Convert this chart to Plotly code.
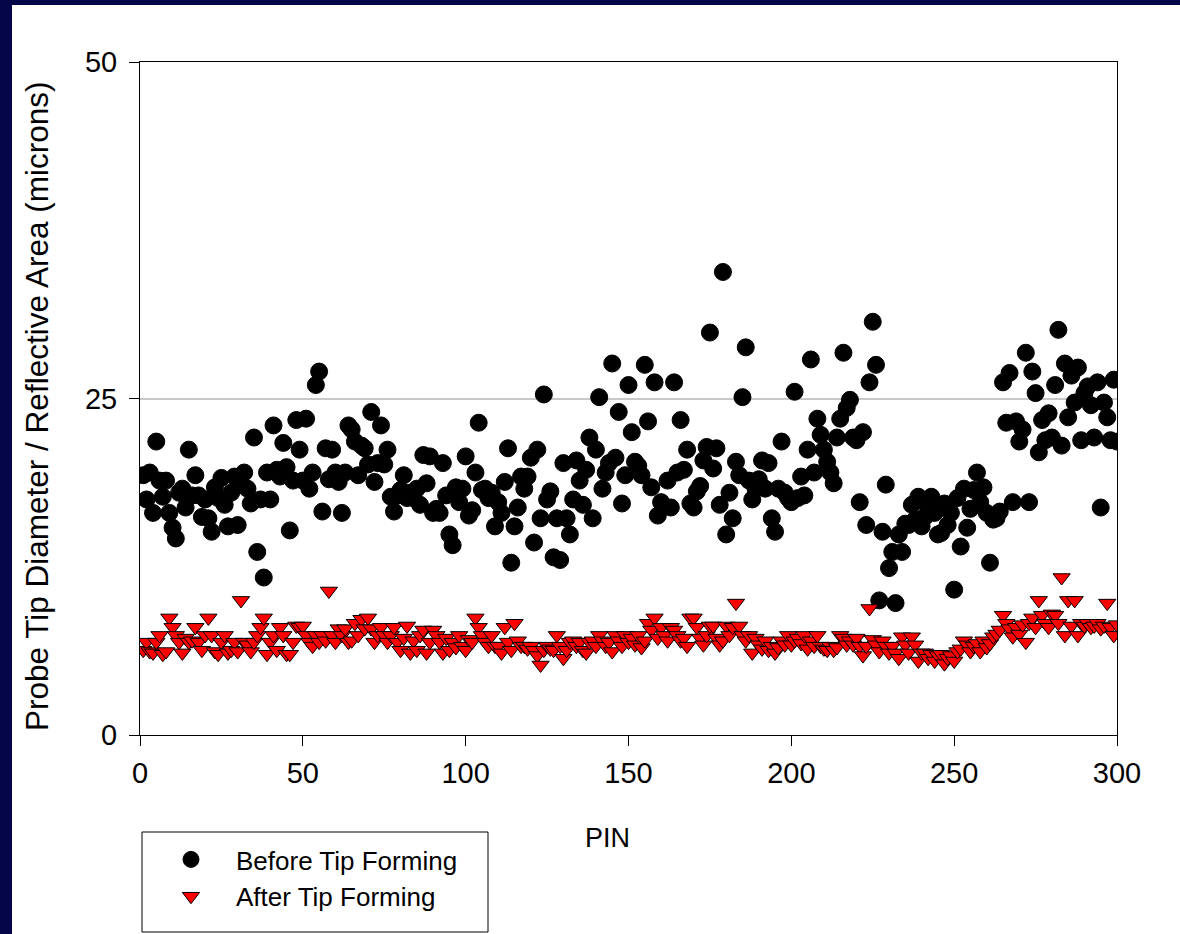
import plotly.graph_objects as go

pins = list(range(1, 301))

before = [
    19.3, 17.5, 19.5, 16.5, 21.8, 18.9, 17.7, 18.9, 16.5, 15.4,
    14.6, 18.0, 18.3, 16.9, 21.2, 17.8, 19.3, 17.8, 16.2, 17.5,
    16.1, 15.1, 18.4, 17.6, 19.1, 17.1, 15.5, 18.0, 19.2, 15.6,
    18.6, 19.5, 18.3, 17.2, 22.1, 13.6, 17.5, 11.7, 19.5, 17.5,
    23.0, 19.7, 19.2, 21.7, 19.9, 15.2, 18.9, 23.4, 21.2, 18.9,
    23.5, 18.3, 19.5, 26.0, 27.0, 16.6, 21.3, 19.0, 21.2, 19.5,
    18.8, 16.5, 19.5, 23.0, 22.7, 21.8, 19.3, 21.5, 21.3, 20.1,
    24.0, 18.8, 20.2, 23.0, 20.1, 21.2, 17.7, 16.6, 17.8, 18.2,
    19.3, 17.6, 18.0, 17.6, 18.3, 17.1, 20.8, 18.7, 20.7, 16.5,
    16.8, 16.5, 20.2, 17.8, 14.9, 14.1, 18.4, 17.3, 18.3, 20.7,
    16.3, 16.7, 19.5, 23.2, 18.2, 18.3, 17.6, 18.0, 15.5, 17.3,
    16.5, 18.8, 21.3, 12.8, 15.5, 16.9, 19.2, 18.3, 19.2, 20.6,
    14.3, 21.2, 16.1, 25.3, 17.5, 18.1, 13.2, 16.1, 13.0, 20.2,
    16.1, 14.9, 17.5, 20.4, 18.9, 17.1, 19.7, 22.1, 16.1, 21.2,
    25.1, 18.3, 19.5, 20.2, 27.6, 20.6, 24.0, 17.2, 19.3, 26.0,
    22.5, 20.3, 20.0, 19.3, 27.5, 23.3, 18.4, 26.2, 16.3, 17.3,
    17.0, 18.9, 16.9, 26.2, 19.5, 23.4, 19.7, 21.2, 17.2, 16.9,
    18.1, 18.5, 20.4, 21.4, 29.9, 19.8, 21.3, 17.1, 34.4, 14.9,
    18.0, 16.1, 20.3, 19.3, 25.1, 28.8, 18.9, 17.5, 18.3, 19.0,
    20.4, 18.3, 20.2, 16.1, 15.1, 18.3, 21.8, 18.0, 17.6, 17.3,
    25.5, 17.6, 19.2, 17.8, 21.2, 27.9, 19.5, 23.5, 22.3, 21.2,
    20.3, 19.5, 18.7, 22.1, 23.5, 28.4, 24.3, 24.9, 22.1, 21.9,
    17.3, 22.5, 15.6, 26.2, 30.7, 27.5, 10.0, 15.1, 18.6, 12.4,
    13.6, 9.8, 14.9, 13.6, 15.7, 15.6, 17.1, 16.0, 17.7, 15.5,
    16.2, 16.9, 17.7, 16.5, 14.9, 15.0, 17.2, 15.6, 16.5, 10.8,
    17.6, 14.0, 18.3, 15.4, 16.8, 18.2, 19.5, 17.3, 18.4, 16.5,
    12.8, 16.0, 16.1, 16.6, 26.2, 23.2, 26.9, 17.3, 23.3, 21.8,
    22.7, 28.4, 17.3, 27.0, 25.4, 21.0, 23.4, 21.9, 23.9, 22.1,
    26.0, 30.1, 21.5, 27.6, 23.6, 26.7, 24.7, 27.3, 21.9, 25.4,
    25.9, 24.5, 22.1, 26.2, 16.9, 24.7, 23.6, 21.9, 26.4, 21.8,
]

after = [
    6.3, 6.9, 6.2, 6.1, 6.9, 7.4, 6.0, 6.2, 8.7, 8.0,
    7.4, 6.9, 6.1, 7.2, 6.9, 7.0, 8.0, 6.9, 6.3, 7.4,
    8.7, 7.4, 6.2, 6.0, 6.9, 7.4, 6.1, 6.3, 6.9, 6.2,
    10.0, 6.9, 6.7, 6.2, 6.9, 7.4, 8.0, 8.7, 6.0, 6.9,
    7.4, 6.3, 8.0, 7.4, 6.0, 6.0, 6.9, 8.1, 8.0, 8.1,
    7.4, 6.9, 6.6, 7.4, 6.9, 7.4, 7.0, 10.7, 7.4, 6.9,
    7.9, 7.4, 7.9, 6.9, 7.0, 8.3, 7.4, 8.6, 7.9, 8.7,
    7.9, 6.9, 7.4, 8.0, 7.4, 6.9, 7.4, 8.0, 6.9, 6.3,
    7.2, 8.1, 6.1, 7.0, 6.3, 7.4, 7.8, 6.1, 6.9, 7.8,
    7.4, 6.9, 6.1, 7.2, 6.3, 6.9, 6.5, 7.4, 6.6, 6.3,
    7.1, 6.9, 8.7, 8.0, 7.4, 6.9, 6.6, 7.4, 6.6, 6.6,
    6.1, 8.0, 6.9, 6.3, 8.3, 7.0, 6.6, 6.6, 6.4, 6.6,
    6.3, 5.9, 5.2, 6.3, 6.6, 6.4, 6.3, 7.4, 6.6, 5.7,
    6.3, 6.9, 7.0, 6.6, 6.9, 6.3, 6.1, 6.9, 7.0, 6.6,
    7.4, 7.0, 6.6, 6.9, 6.2, 7.4, 7.0, 6.6, 7.4, 6.9,
    7.2, 6.7, 7.4, 6.5, 7.0, 8.3, 7.8, 8.7, 7.2, 8.0,
    7.4, 7.0, 8.0, 7.8, 7.4, 7.0, 7.2, 6.6, 8.7, 8.7,
    8.0, 7.2, 6.7, 7.4, 8.1, 8.1, 7.2, 6.7, 7.0, 8.1,
    7.4, 8.0, 9.8, 8.1, 7.4, 7.0, 7.4, 6.1, 7.2, 6.7,
    6.4, 7.0, 6.3, 6.6, 6.1, 6.5, 7.0, 6.7, 7.4, 6.7,
    7.0, 7.2, 6.8, 7.4, 6.4, 7.0, 6.6, 7.4, 6.6, 6.4,
    6.3, 6.6, 6.3, 6.5, 7.4, 7.2, 6.7, 7.0, 6.7, 7.2,
    6.6, 5.9, 6.6, 9.4, 7.1, 6.7, 6.2, 7.0, 6.6, 6.1,
    6.6, 6.1, 5.7, 7.3, 6.7, 6.1, 7.3, 6.7, 5.5, 6.1,
    6.1, 5.7, 6.0, 5.5, 5.9, 6.0, 5.3, 5.7, 5.9, 5.5,
    6.2, 6.4, 7.0, 6.7, 6.2, 6.6, 6.8, 6.2, 7.0, 6.5,
    6.8, 7.3, 7.5, 7.8, 8.9, 8.3, 7.9, 7.3, 8.0, 7.5,
    8.2, 6.9, 8.3, 8.7, 8.0, 10.0, 8.9, 8.3, 8.0, 9.0,
    8.9, 8.3, 11.7, 7.4, 10.0, 8.1, 10.0, 7.4, 8.3, 8.1,
    8.3, 8.0, 8.1, 8.3, 7.9, 8.1, 9.8, 8.0, 7.4, 8.2,
]

series_names = ["Before Tip Forming", "After Tip Forming"]
x_ticks = [0, 50, 100, 150, 200, 250, 300]
y_ticks = [0, 25, 50]
x_title = "PIN"
y_title = "Probe Tip Diameter / Reflective Area (microns)"

W, H = 1180, 934
L, R, T, B = 140, 1180 - 1117, 62, 934 - 735
PW, PH = W - L - R, H - T - B

def px(x):
    return (x - L) / PW

def py(y):
    return (H - B - y) / PH

FONT = "Arial, 'Liberation Sans', sans-serif"
NAVY = "#05054a"

fig = go.Figure()
fig.add_trace(go.Scatter(
    x=pins, y=before, mode="markers", name=series_names[0],
    marker=dict(symbol="circle", size=17, color="black",
                line=dict(color="black", width=1)),
))
fig.add_trace(go.Scatter(
    x=pins, y=after, mode="markers", name=series_names[1],
    marker=dict(symbol="triangle-down", size=15, color="#ff0000",
                line=dict(color="black", width=1)),
))

fig.update_layout(
    width=W, height=H,
    margin=dict(l=L, r=R, t=T, b=B, pad=0),
    paper_bgcolor="white", plot_bgcolor="white",
    font=dict(family=FONT, color="black", size=28),
    showlegend=True,
    legend=dict(
        x=px(146), y=py(836), xanchor="left", yanchor="top",
        borderwidth=0, bgcolor="rgba(0,0,0,0)",
        font=dict(family=FONT, size=26, color="black"),
        itemwidth=80, tracegroupgap=0,
    ),
    xaxis=dict(
        range=[0, 300], tickvals=x_ticks, ticktext=[str(v) for v in x_ticks],
        showgrid=False, zeroline=False,
        showline=True, linecolor="black", linewidth=1, mirror=True,
        ticks="outside", ticklen=10, tickcolor="black", tickwidth=1,
        ticklabelstandoff=2,
        tickfont=dict(family=FONT, size=29, color="black"),
    ),
    yaxis=dict(
        range=[0, 50], tickvals=y_ticks, ticktext=[str(v) for v in y_ticks],
        showgrid=True, gridcolor="#c8c8c8", gridwidth=2, zeroline=False,
        showline=True, linecolor="black", linewidth=1, mirror=True,
        ticks="outside", ticklen=10, tickcolor="black", tickwidth=1,
        ticklabelstandoff=6,
        tickfont=dict(family=FONT, size=29, color="black"),
    ),
    annotations=[
        dict(text=x_title, xref="paper", yref="paper", x=px(607), y=py(838),
             xanchor="center", yanchor="middle", showarrow=False,
             font=dict(family=FONT, size=27, color="black")),
        dict(text=y_title, xref="paper", yref="paper", x=px(37), y=py(407),
             xanchor="center", yanchor="middle", showarrow=False, textangle=-90,
             font=dict(family=FONT, size=31.5, color="black")),
    ],
    shapes=[
        dict(type="rect", xref="paper", yref="paper", layer="above",
             x0=px(142), x1=px(488), y0=py(932), y1=py(832),
             fillcolor="rgba(0,0,0,0)", line=dict(color="black", width=1)),
        dict(type="rect", xref="paper", yref="paper", layer="above",
             x0=px(-5), x1=px(12), y0=py(H + 5), y1=py(-5),
             fillcolor=NAVY, line=dict(width=0)),
        dict(type="rect", xref="paper", yref="paper", layer="above",
             x0=px(-5), x1=px(W + 5), y0=py(5), y1=py(-5),
             fillcolor=NAVY, line=dict(width=0)),
    ],
)

fig.write_html("out.html")
